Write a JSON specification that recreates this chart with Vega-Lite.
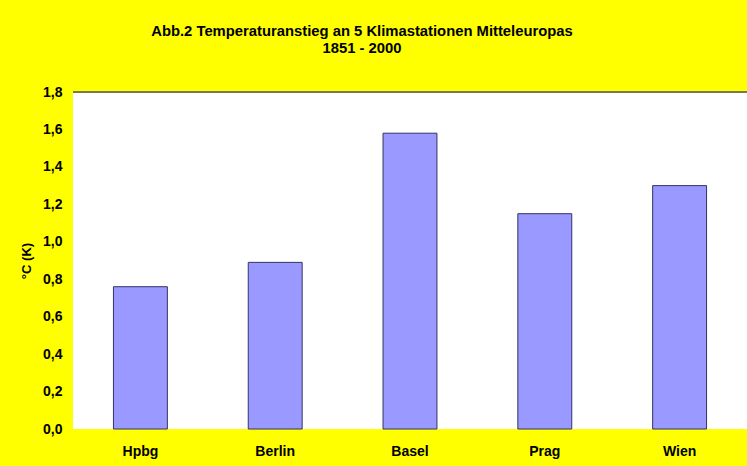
{
  "$schema": "https://vega.github.io/schema/vega-lite/v6.json",
  "width": 674,
  "height": 337,
  "autosize": "none",
  "padding": {"left": 73, "top": 92, "right": 0, "bottom": 37},
  "background": "#FFFF00",
  "config": {
    "view": {"fill": "white", "stroke": null},
    "font": "Liberation Sans",
    "axisY": {"labelOverlap": false}
  },
  "title": {
    "text": ["Abb.2 Temperaturanstieg  an 5 Klimastationen Mitteleuropas", "1851 - 2000"],
    "fontSize": 14.8,
    "fontWeight": "bold",
    "font": "Liberation Sans",
    "color": "#000000",
    "anchor": "middle",
    "dx": -48,
    "offset": 29,
    "lineHeight": 17
  },
  "data": {
    "values": [
      {"station": "Hpbg", "value": 0.76},
      {"station": "Berlin", "value": 0.89},
      {"station": "Basel", "value": 1.58},
      {"station": "Prag", "value": 1.15},
      {"station": "Wien", "value": 1.30}
    ]
  },
  "encoding": {
    "y": {
      "type": "quantitative",
      "scale": {"domain": [0, 1.8], "nice": false},
      "axis": {
        "title": "°C (K)",
        "titleFontSize": 13,
        "titleFontWeight": "bold",
        "titleColor": "#000000",
        "titlePadding": 9,
        "values": [0, 0.2, 0.4, 0.6, 0.8, 1.0, 1.2, 1.4, 1.6, 1.8],
        "labelExpr": "replace(format(datum.value, '.1f'), '.', ',')",
        "labelOverlap": false,
        "labelFontWeight": "bold",
        "labelFontSize": 14,
        "labelColor": "#000000",
        "labelPadding": 11,
        "ticks": false,
        "domain": false,
        "grid": false
      }
    }
  },
  "layer": [
    {
      "mark": {"type": "bar", "fill": "#9999FF", "stroke": "#333366", "strokeWidth": 1},
      "encoding": {
        "x": {
          "field": "station",
          "type": "nominal",
          "sort": null,
          "scale": {"paddingInner": 0.6, "paddingOuter": 0.3},
          "axis": {
            "title": null,
            "labelAngle": 0,
            "labelFontWeight": "bold",
            "labelFontSize": 14,
            "labelColor": "#000000",
            "labelPadding": 15,
            "ticks": false,
            "domain": false
          }
        },
        "y": {"field": "value"}
      }
    },
    {
      "mark": {"type": "rule", "color": "#7A7A4A", "strokeWidth": 1.5},
      "encoding": {"y": {"datum": 1.8}}
    }
  ]
}
